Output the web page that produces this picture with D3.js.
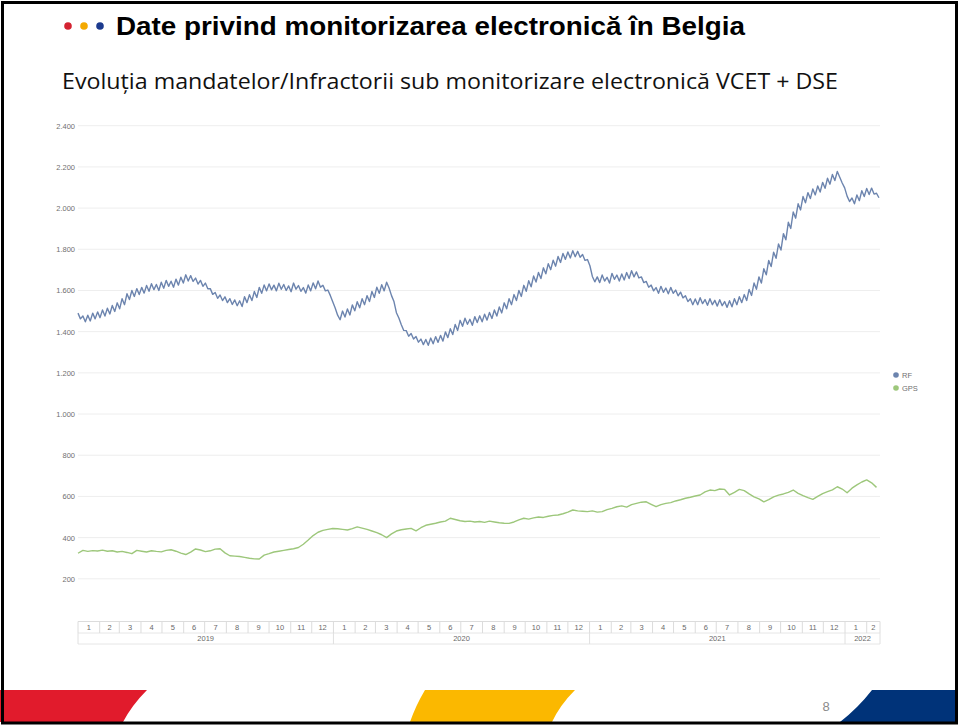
<!DOCTYPE html>
<html lang="ro">
<head>
<meta charset="utf-8">
<script src="https://cdn.jsdelivr.net/npm/d3@7"></script>
<style>
  html, body { margin: 0; padding: 0; background: #fff; }
  svg { display: block; }
</style>
</head>
<body>
<svg id="slide" width="958" height="725"></svg>
<script>
// ---- Data --------------------------------------------------------------
const seriesNames = ["RF", "GPS"];
const yTicks = [200, 400, 600, 800, 1000, 1200, 1400, 1600, 1800, 2000, 2200, 2400];
const monthLabels = ["1","2","3","4","5","6","7","8","9","10","11","12"];
const yearLabels = ["2019", "2020", "2021", "2022"];
const periodStart = "2019-01-01";
const periodEnd = "2022-02-20";

// RF: twice-weekly readings (peak / trough of the weekly cycle), from 1 Jan 2019
const rfValues = [
  1490,1462, 1476,1448, 1480,1452, 1490,1462, 1496,1468, 1505,1476, 1514,1486, 1527,1498,
  1540,1511, 1560,1531, 1584,1556, 1600,1571, 1609,1580, 1615,1587, 1624,1596, 1633,1604,
  1629,1600, 1640,1611, 1649,1620, 1645,1616, 1655,1626, 1664,1636, 1676,1646, 1672,1644,
  1660,1631, 1649,1620, 1636,1608, 1609,1581, 1590,1562, 1578,1551, 1569,1541, 1560,1532,
  1554,1526, 1550,1522, 1570,1541, 1579,1551, 1595,1566, 1615,1586, 1627,1598, 1632,1603,
  1626,1598, 1635,1606, 1629,1600, 1622,1594, 1636,1606, 1624,1596, 1614,1587, 1627,1598,
  1637,1608, 1646,1616, 1625,1598, 1602,1576, 1545,1515, 1480,1458, 1500,1471, 1510,1481,
  1530,1501, 1545,1516, 1560,1531, 1575,1546, 1595,1566, 1616,1586, 1628,1598, 1640,1612,
  1575,1546, 1492,1466, 1434,1406, 1405,1378, 1391,1364, 1376,1349, 1364,1337, 1362,1334,
  1369,1341, 1376,1348, 1382,1354, 1399,1371, 1414,1386, 1435,1406, 1455,1426, 1465,1436,
  1460,1431, 1473,1444, 1477,1448, 1485,1456, 1493,1464, 1505,1476, 1520,1491, 1540,1511,
  1560,1531, 1580,1551, 1600,1571, 1625,1596, 1647,1618, 1670,1641, 1687,1658, 1710,1681,
  1730,1701, 1747,1718, 1765,1736, 1780,1751, 1787,1758, 1793,1764, 1790,1761, 1775,1746,
  1750,1720, 1668,1642, 1666,1638, 1675,1646, 1664,1636, 1683,1654, 1675,1646, 1680,1651,
  1687,1658, 1696,1666, 1690,1661, 1666,1638, 1644,1616, 1626,1598, 1614,1586, 1620,1591,
  1612,1584, 1615,1586, 1602,1574, 1592,1564, 1574,1546, 1560,1531, 1559,1531, 1565,1536,
  1556,1528, 1560,1531, 1552,1524, 1555,1526, 1546,1518, 1550,1521, 1560,1531, 1570,1541,
  1580,1551, 1605,1576, 1636,1606, 1666,1636, 1706,1676, 1746,1716, 1786,1756, 1826,1796,
  1876,1846, 1931,1901, 1981,1951, 2021,1991, 2056,2026, 2075,2046, 2093,2064, 2107,2078,
  2125,2096, 2145,2116, 2163,2134, 2178,2150, 2122,2098, 2058,2032, 2049,2021, 2064,2036,
  2084,2056, 2095,2066, 2097,2068, 2072,2050
];

// GPS: weekly readings, from 1 Jan 2019
const gpsValues = [
  324,338,333,337,335,339,334,336,330,333,328,322,338,334,330,336,333,331,338,341,
  334,325,318,330,345,340,332,336,344,346,326,312,310,308,304,300,297,296,315,322,
  330,334,338,342,346,352,368,388,410,426,435,440,444,443,440,437,444,452,446,440,
  432,424,414,400,418,432,438,442,445,433,448,460,465,470,476,480,494,488,482,478,
  480,476,478,474,480,476,472,470,469,476,486,494,490,496,500,498,504,508,510,516,
  524,534,530,528,526,530,524,526,536,542,550,554,548,560,566,572,574,562,550,560,
  566,570,578,584,591,596,602,607,622,631,628,636,634,607,620,634,628,612,598,588,
  574,584,598,606,612,620,631,615,604,594,586,600,614,623,632,647,636,618,640,656,
  670,680,666,644
];

const seriesColors = { RF: "#6c84ae", GPS: "#9dc77b" };

// ---- Setup -------------------------------------------------------------
const svg = d3.select("#slide");
const W = 958, H = 725;
const DAY = 86400000;
const t0 = new Date(periodStart + "T00:00:00Z");
const t1 = new Date(periodEnd + "T00:00:00Z");

const plot = { left: 78, right: 880, top: 125.7, bottom: 620 };

const x = d3.scaleUtc().domain([t0, t1]).range([plot.left, plot.right]);
const y = d3.scaleLinear().domain([0, 2400]).range([plot.bottom, plot.top]);

const roLocale = d3.formatLocale({ decimal: ",", thousands: ".", grouping: [3], currency: ["", " lei"] });
const fmt = roLocale.format(",d");

const rfData = rfValues.map((v, i) => ({ date: new Date(t0.getTime() + i * 3.5 * DAY), value: v }));
const gpsData = gpsValues.map((v, i) => ({ date: new Date(t0.getTime() + i * 7 * DAY), value: v }));

// ---- Slide background & header ----------------------------------------
svg.append("rect").attr("x", 0).attr("y", 0).attr("width", W).attr("height", H).attr("fill", "#fff");

const dots = [["#d42331", 68], ["#f4a900", 84], ["#1c3a8e", 100]];
svg.selectAll("circle.bullet").data(dots).join("circle")
  .attr("class", "bullet")
  .attr("cx", d => d[1]).attr("cy", 26).attr("r", 3.8)
  .attr("fill", d => d[0]);

svg.append("text")
  .attr("x", 116).attr("y", 35)
  .attr("font-family", "'Liberation Sans', Arial, sans-serif")
  .attr("font-weight", "bold").attr("font-size", 25.5)
  .attr("fill", "#000")
  .attr("textLength", 629).attr("lengthAdjust", "spacingAndGlyphs")
  .text("Date privind monitorizarea electronică în Belgia");

svg.append("text")
  .attr("x", 62).attr("y", 89)
  .attr("font-family", "'Open Sans', 'Liberation Sans', sans-serif")
  .attr("font-size", 21)
  .attr("fill", "#111")
  .attr("textLength", 776).attr("lengthAdjust", "spacingAndGlyphs")
  .text("Evoluția mandatelor/Infractorii sub monitorizare electronică VCET + DSE");

// ---- Gridlines & y labels ---------------------------------------------
const chart = svg.append("g").attr("class", "chart");

chart.append("g").selectAll("line").data(yTicks).join("line")
  .attr("x1", plot.left).attr("x2", plot.right)
  .attr("y1", d => y(d)).attr("y2", d => y(d))
  .attr("stroke", "#eeeeee").attr("stroke-width", 1);

chart.append("g").selectAll("text").data(yTicks).join("text")
  .attr("x", 75).attr("y", d => y(d) + 3)
  .attr("text-anchor", "end")
  .attr("font-family", "'Liberation Sans', Arial, sans-serif")
  .attr("font-size", 7.5).attr("fill", "#707070")
  .text(d => fmt(d));

// ---- Lines -------------------------------------------------------------
const line = d3.line().x(d => x(d.date)).y(d => y(d.value)).curve(d3.curveLinear);

chart.append("path").datum(gpsData)
  .attr("fill", "none").attr("stroke", seriesColors.GPS)
  .attr("stroke-width", 1.4).attr("stroke-linejoin", "round")
  .attr("d", line);

chart.append("path").datum(rfData)
  .attr("fill", "none").attr("stroke", seriesColors.RF)
  .attr("stroke-width", 1.4).attr("stroke-linejoin", "round")
  .attr("d", line);

// ---- Legend ------------------------------------------------------------
const legend = chart.append("g").selectAll("g").data(seriesNames).join("g")
  .attr("transform", (d, i) => `translate(896,${375 + i * 13})`);
legend.append("circle").attr("r", 2.8).attr("fill", d => seriesColors[d]);
legend.append("text").attr("x", 6).attr("y", 3)
  .attr("font-family", "'Liberation Sans', Arial, sans-serif")
  .attr("font-size", 7.5).attr("fill", "#707070")
  .text(d => d);

// ---- Month / year table axis -----------------------------------------
const axisG = chart.append("g").attr("class", "x-table");
const rowTop = 621.5, rowMid = 633, rowBot = 644;
const months = d3.utcMonth.range(t0, d3.utcMonth.offset(t1, 1)).filter(d => d < t1);
const years = d3.utcYear.range(t0, d3.utcYear.offset(t1, 1)).filter(d => d < t1);

const cellEdge = d => Math.min(x(d), plot.right);

axisG.append("line").attr("x1", plot.left).attr("x2", plot.right)
  .attr("y1", rowTop).attr("y2", rowTop).attr("stroke", "#dcdcdc");
axisG.append("line").attr("x1", plot.left).attr("x2", plot.right)
  .attr("y1", rowMid).attr("y2", rowMid).attr("stroke", "#e6e6e6");
axisG.append("line").attr("x1", plot.left).attr("x2", plot.right)
  .attr("y1", rowBot).attr("y2", rowBot).attr("stroke", "#e6e6e6");

// month borders
axisG.append("g").selectAll("line").data(months.concat([t1])).join("line")
  .attr("x1", d => cellEdge(d)).attr("x2", d => cellEdge(d))
  .attr("y1", rowTop).attr("y2", rowMid).attr("stroke", "#dcdcdc");

axisG.append("g").selectAll("text").data(months).join("text")
  .attr("x", d => (x(d) + cellEdge(d3.utcMonth.offset(d, 1))) / 2)
  .attr("y", 630)
  .attr("text-anchor", "middle")
  .attr("font-family", "'Liberation Sans', Arial, sans-serif")
  .attr("font-size", 7.5).attr("fill", "#6a6a6a")
  .text(d => monthLabels[d.getUTCMonth()]);

// year borders
axisG.append("g").selectAll("line").data(years.concat([t1])).join("line")
  .attr("x1", d => cellEdge(d)).attr("x2", d => cellEdge(d))
  .attr("y1", rowMid).attr("y2", rowBot).attr("stroke", "#e0e0e0");

axisG.append("g").selectAll("text").data(years).join("text")
  .attr("x", d => (x(d) + cellEdge(d3.utcYear.offset(d, 1))) / 2)
  .attr("y", 641)
  .attr("text-anchor", "middle")
  .attr("font-family", "'Liberation Sans', Arial, sans-serif")
  .attr("font-size", 7.5).attr("fill", "#6a6a6a")
  .text(d => yearLabels[d.getUTCFullYear() - 2019]);

// ---- Footer bands ------------------------------------------------------
const footer = svg.append("g").attr("class", "footer");
footer.append("path")
  .attr("d", "M0,690 L147,690 Q132,705 123,722 L0,722 Z")
  .attr("fill", "#e11b2c");
footer.append("path")
  .attr("d", "M425,690 L575,690 Q560,705 552,722 L410,722 Q416,705 425,690 Z")
  .attr("fill", "#fbb800");
footer.append("path")
  .attr("d", "M872,690 L958,690 L958,722 L840,722 Q858,708 872,690 Z")
  .attr("fill", "#003379");

svg.append("text")
  .attr("x", 826).attr("y", 711)
  .attr("text-anchor", "middle")
  .attr("font-family", "'Liberation Sans', Arial, sans-serif")
  .attr("font-size", 13).attr("fill", "#8a8a8a")
  .text("8");

// ---- Slide frame -------------------------------------------------------
svg.append("rect")
  .attr("x", 2.5).attr("y", 2.5).attr("width", W - 4).attr("height", H - 4.5)
  .attr("fill", "none").attr("stroke", "#000").attr("stroke-width", 3);
</script>
</body>
</html>
